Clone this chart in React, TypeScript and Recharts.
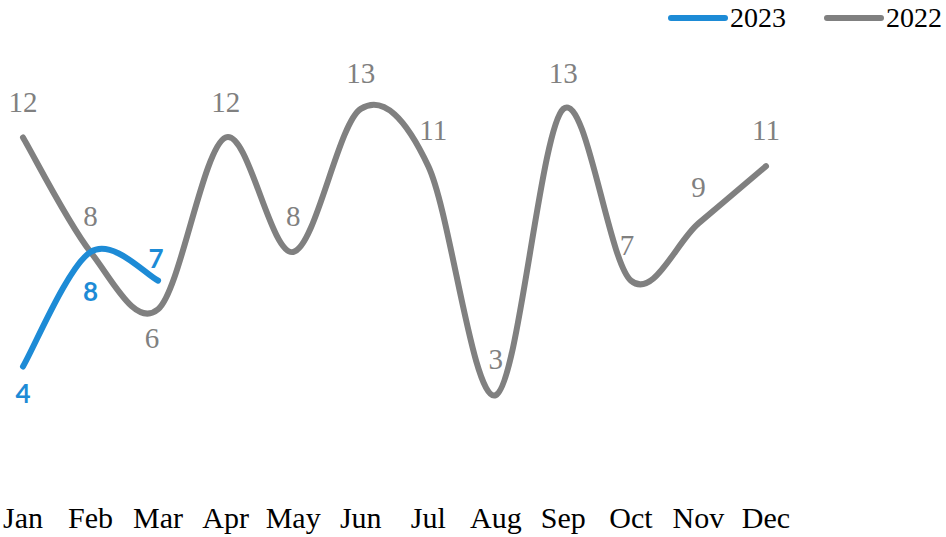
import { LineChart, Line, XAxis, YAxis, LabelList } from "recharts";

const MONTHS = ["Jan", "Feb", "Mar", "Apr", "May", "Jun", "Jul", "Aug", "Sep", "Oct", "Nov", "Dec"];
const VALUES_2022 = [12, 8, 6, 12, 8, 13, 11, 3, 13, 7, 9, 11];
const VALUES_2023 = [4, 8, 7];

const BLUE = "#1d8bd6";
const GREY = "#808080";
const SERIF = "'Liberation Serif', 'Times New Roman', serif";

const data = MONTHS.map((month, i) => ({
  month,
  y2022: VALUES_2022[i],
  y2023: VALUES_2023[i],
}));

// Excel-like smoothed line (Catmull-Rom through every point)
function smoothCurve(context: any) {
  let pts: number[][] = [];
  return {
    areaStart() {},
    areaEnd() {},
    lineStart() {
      pts = [];
    },
    point(x: number, y: number) {
      pts.push([+x, +y]);
    },
    lineEnd() {
      if (!pts.length) return;
      context.moveTo(pts[0][0], pts[0][1]);
      for (let i = 0; i < pts.length - 1; i++) {
        const p0 = pts[i - 1] || pts[i];
        const p1 = pts[i];
        const p2 = pts[i + 1];
        const p3 = pts[i + 2] || p2;
        context.bezierCurveTo(
          p1[0] + (p2[0] - p0[0]) / 6,
          p1[1] + (p2[1] - p0[1]) / 6,
          p2[0] - (p3[0] - p1[0]) / 6,
          p2[1] - (p3[1] - p1[1]) / 6,
          p2[0],
          p2[1]
        );
      }
    },
  };
}

function greyLabel(props: any) {
  const { value, index } = props;
  if (value == null) return null;
  const x = props.x ?? props.viewBox?.x;
  const y = props.y ?? props.viewBox?.y;
  const below = index === 2;
  const shift = below ? -6 : index === 6 ? 5 : index === 9 ? -4 : 0;
  return (
    <text
      x={x + shift}
      y={below ? y + 29 : y - 36}
      textAnchor="middle"
      dominantBaseline="central"
      fill={GREY}
      fontFamily={SERIF}
      fontSize={29}
    >
      {value}
    </text>
  );
}

function blueLabel(props: any) {
  const { value, index } = props;
  if (value == null) return null;
  const x = props.x ?? props.viewBox?.x;
  const y = props.y ?? props.viewBox?.y;
  const dy = index === 0 ? 26 : index === 1 ? 39 : -23;
  return (
    <text
      x={x - (index === 2 ? 2 : 0)}
      y={y + dy}
      textAnchor="middle"
      dominantBaseline="central"
      fill={BLUE}
      fontFamily="Lato, sans-serif"
      fontWeight={700}
      fontSize={26}
    >
      {value}
    </text>
  );
}

function LegendItem({ color, name }: { color: string; name: string }) {
  return (
    <div style={{ display: "flex", alignItems: "center" }}>
      <div style={{ width: 60, height: 6, borderRadius: 3, background: color }} />
      <span style={{ fontFamily: SERIF, fontSize: 28, color: "#000", marginLeft: 2 }}>{name}</span>
    </div>
  );
}

export default function App() {
  return (
    <div style={{ position: "absolute", left: 0, top: 0, width: 946, height: 537, background: "#fff" }}>
      <LineChart
        width={946}
        height={537}
        data={data}
        margin={{ top: 23, right: 180, bottom: 0, left: 23 }}
      >
        <XAxis
          dataKey="month"
          axisLine={false}
          tickLine={false}
          height={56}
          tickMargin={20}
          interval={0}
          tick={{ fontSize: 30, fill: "#000", fontFamily: SERIF }}
        />
        <YAxis hide domain={[0, 16]} />
        <Line
          dataKey="y2022"
          type={smoothCurve as any}
          stroke={GREY}
          strokeWidth={6}
          strokeLinecap="round"
          dot={false}
          isAnimationActive={false}
        >
          <LabelList dataKey="y2022" content={greyLabel} />
        </Line>
        <Line
          dataKey="y2023"
          type={smoothCurve as any}
          stroke={BLUE}
          strokeWidth={6}
          strokeLinecap="round"
          dot={false}
          isAnimationActive={false}
        >
          <LabelList dataKey="y2023" content={blueLabel} />
        </Line>
      </LineChart>
      <div style={{ position: "absolute", left: 668, top: 2, display: "flex", gap: 38 }}>
        <LegendItem color={BLUE} name="2023" />
        <LegendItem color={GREY} name="2022" />
      </div>
    </div>
  );
}
